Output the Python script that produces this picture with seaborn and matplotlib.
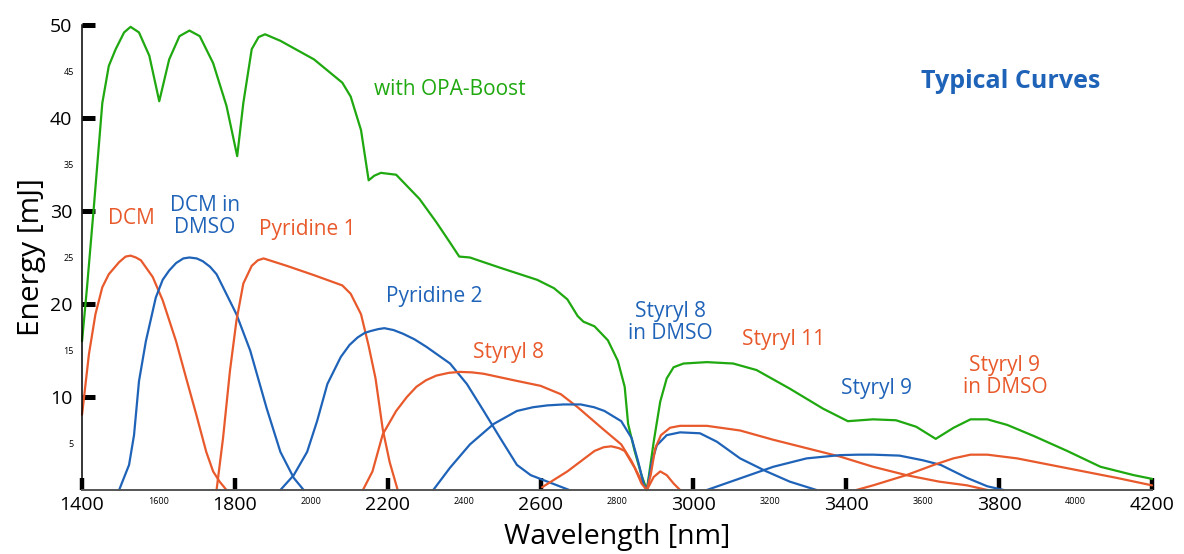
import matplotlib
matplotlib.use('Agg')
import matplotlib.pyplot as plt
import seaborn as sns
import pandas as pd

# Curve data (wavelength in nm, energy in mJ)
green_x = [1400, 1413, 1431, 1453, 1470, 1488, 1510, 1527, 1549, 1576, 1602, 1628, 1655, 1681, 1708, 1743, 1778,
           1806, 1822, 1844, 1862, 1879, 1919, 2007, 2081, 2103, 2130, 2150, 2165, 2182, 2222, 2283, 2327, 2363, 2387,
           2415, 2494, 2591, 2635, 2670, 2697, 2712, 2741, 2776, 2802, 2820, 2829, 2846, 2864, 2878, 2896,
           2913, 2930, 2948, 2974, 3035, 3104, 3165, 3252, 3339, 3404, 3470, 3530, 3583, 3634, 3681, 3725,
           3769, 3821, 3891, 3978, 4065, 4152, 4200]
green_y = [16.0, 21.8, 30.5, 41.6, 45.6, 47.4, 49.2, 49.8, 49.2, 46.7, 41.8, 46.3, 48.8, 49.4, 48.8, 45.9, 41.3,
           35.9, 41.6, 47.4, 48.7, 49.0, 48.3, 46.3, 43.8, 42.3, 38.7, 33.3, 33.8, 34.1, 33.9, 31.3, 28.8, 26.6, 25.1,
           25.0, 23.9, 22.6, 21.7, 20.5, 18.7, 18.1, 17.6, 16.1, 13.9, 11.1, 7.1, 4.2, 1.6, 0.0, 5.2,
           9.5, 12.0, 13.2, 13.6, 13.75, 13.6, 12.9, 10.9, 8.75, 7.4, 7.6, 7.5, 6.8, 5.5, 6.7, 7.6,
           7.6, 7.0, 5.8, 4.2, 2.5, 1.6, 1.2]

dcm_x = [1400, 1418, 1435, 1453, 1470, 1497, 1514, 1527, 1541, 1554, 1585, 1611, 1646, 1672, 1699, 1725, 1743,
         1760, 1778]
dcm_y = [8.1, 14.6, 18.9, 21.8, 23.2, 24.5, 25.1, 25.2, 25.0, 24.7, 22.9, 20.4, 16.0, 12.1, 8.1, 4.1, 2.0,
         0.9, 0.0]

dcm_dmso_x = [1497, 1523, 1536, 1549, 1567, 1593, 1611, 1628, 1646, 1665, 1681, 1700, 1716, 1735, 1752, 1769,
              1804, 1840, 1883, 1919, 1954, 1980]
dcm_dmso_y = [0.0, 2.7, 5.9, 11.7, 16.0, 20.7, 22.6, 23.6, 24.4, 24.9, 25.0, 24.9, 24.6, 24.0, 23.2, 21.8,
              18.9, 15.0, 8.8, 4.1, 1.3, 0.0]

pyr1_x = [1752, 1769, 1787, 1804, 1822, 1844, 1860, 1875, 1936, 2007, 2081, 2103, 2130, 2150, 2168, 2187, 2205,
          2226]
pyr1_y = [0.0, 5.6, 12.8, 18.2, 22.2, 24.1, 24.7, 24.9, 24.1, 23.1, 22.0, 21.1, 18.9, 15.5, 12.0, 6.5, 3.0,
          0.0]

pyr2_x = [1919, 1954, 1989, 2015, 2042, 2077, 2100, 2121, 2140, 2156, 2175, 2191, 2215, 2240, 2270, 2301, 2363,
          2407, 2451, 2494, 2538, 2574, 2618, 2675]
pyr2_y = [0.0, 1.6, 4.1, 7.4, 11.4, 14.3, 15.6, 16.4, 16.9, 17.1, 17.3, 17.4, 17.2, 16.8, 16.2, 15.4, 13.6,
          11.4, 8.5, 5.6, 2.7, 1.6, 0.9, 0.0]

styryl8_x = [2135, 2160, 2187, 2222, 2250, 2275, 2300, 2327, 2360, 2389, 2420, 2451, 2530, 2600, 2653, 2697,
             2759, 2811, 2838, 2860, 2878]
styryl8_y = [0.0, 2.0, 6.0, 8.5, 10.0, 11.1, 11.8, 12.3, 12.6, 12.7, 12.65, 12.5, 11.8, 11.2, 10.3, 8.9,
             6.7, 4.9, 3.1, 1.3, 0.0]

s8_dmso_x = [2319, 2363, 2415, 2477, 2538, 2580, 2618, 2660, 2705, 2740, 2767, 2811, 2838, 2855, 2870, 2878,
             2891, 2904, 2930, 2965, 3017, 3061, 3122, 3191, 3252, 3322]
s8_dmso_y = [0.0, 2.4, 4.9, 7.1, 8.5, 8.9, 9.1, 9.2, 9.2, 8.9, 8.5, 7.4, 5.6, 3.1, 0.6, 0.0,
             3.0, 4.8, 5.9, 6.2, 6.1, 5.2, 3.4, 2.0, 0.9, 0.0]

bump_x = [2604, 2670, 2741, 2765, 2785, 2805, 2820, 2846, 2864, 2878, 2896, 2913, 2930, 2948, 2965]
bump_y = [0.3, 2.0, 4.2, 4.6, 4.7, 4.5, 4.2, 2.4, 0.7, 0.0, 1.4, 2.0, 1.6, 0.7, 0.0]

styryl11_x = [2878, 2888, 2900, 2915, 2939, 2965, 3035, 3122, 3209, 3296, 3383, 3470, 3557, 3643, 3716, 3769]
styryl11_y = [0.0, 1.6, 4.5, 5.9, 6.7, 6.9, 6.9, 6.4, 5.4, 4.5, 3.6, 2.5, 1.6, 0.9, 0.5, 0.0]

styryl9_x = [3035, 3122, 3209, 3296, 3383, 3430, 3470, 3539, 3600, 3647, 3716, 3769, 3812]
styryl9_y = [0.0, 1.25, 2.5, 3.4, 3.75, 3.8, 3.8, 3.7, 3.2, 2.7, 1.3, 0.4, 0.0]

s9_dmso_x = [3426, 3470, 3557, 3629, 3680, 3725, 3769, 3847, 3934, 4021, 4108, 4200]
s9_dmso_y = [0.0, 0.5, 1.6, 2.7, 3.4, 3.8, 3.8, 3.4, 2.7, 2.0, 1.3, 0.5]

# Axis ticks
x_major = [1400, 1800, 2200, 2600, 3000, 3400, 3800, 4200]
x_minor = [1600, 2000, 2400, 2800, 3200, 3600, 4000]
y_major = [10, 20, 30, 40, 50]
y_minor = [5, 15, 25, 35, 45]

GREEN = '#1fa80f'
ORANGE = '#e8592b'
BLUE = '#1f63b8'

curves = [
    ('OPA-Boost', green_x, green_y, GREEN),
    ('DCM', dcm_x, dcm_y, ORANGE),
    ('DCM in DMSO', dcm_dmso_x, dcm_dmso_y, BLUE),
    ('Pyridine 1', pyr1_x, pyr1_y, ORANGE),
    ('Pyridine 2', pyr2_x, pyr2_y, BLUE),
    ('Styryl 8', styryl8_x, styryl8_y, ORANGE),
    ('Styryl 8 in DMSO', s8_dmso_x, s8_dmso_y, BLUE),
    ('Bump', bump_x, bump_y, ORANGE),
    ('Styryl 11', styryl11_x, styryl11_y, ORANGE),
    ('Styryl 9', styryl9_x, styryl9_y, BLUE),
    ('Styryl 9 in DMSO', s9_dmso_x, s9_dmso_y, ORANGE),
]

df = pd.concat([pd.DataFrame({'wavelength': x, 'energy': y, 'curve': name}) for name, x, y, _ in curves],
               ignore_index=True)
palette = {name: c for name, _, _, c in curves}

sns.set_style('white')
plt.rcParams['font.family'] = ['Open Sans', 'DejaVu Sans']
plt.rcParams['text.color'] = 'black'
plt.rcParams['axes.labelcolor'] = 'black'
plt.rcParams['xtick.labelcolor'] = 'black'
plt.rcParams['ytick.labelcolor'] = 'black'

fig = plt.figure(figsize=(11.84, 5.54), dpi=100)
ax = fig.add_axes([0.0693, 0.1155, 0.9037, 0.8394])

sns.lineplot(data=df, x='wavelength', y='energy', hue='curve', palette=palette, units='curve',
             estimator=None, sort=False, legend=False, linewidth=1.6, ax=ax)
for line in ax.lines:
    line.set_clip_on(False)
    line.set_solid_joinstyle('round')

ax.set_xlim(1400, 4200)
ax.set_ylim(0, 50)

# Spines
sns.despine(ax=ax)
ax.spines['left'].set_color('black')
ax.spines['left'].set_linewidth(1.1)
ax.spines['bottom'].set_color('#555555')
ax.spines['bottom'].set_linewidth(1.4)

# Ticks: thick bars for major, label-only for minor
ax.set_xticks(x_major, [str(v) for v in x_major])
ax.set_xticks(x_minor, [str(v) for v in x_minor], minor=True)
ax.set_yticks(y_major, [str(v) for v in y_major])
ax.set_yticks(y_minor, [str(v) for v in y_minor], minor=True)
ax.tick_params(axis='x', which='major', direction='in', length=9, width=3.2, color='black',
               labelsize=14, pad=4, bottom=True)
ax.tick_params(axis='y', which='major', direction='in', length=9, width=3.6, color='black',
               labelsize=14, pad=7, left=True)
ax.tick_params(axis='x', which='minor', length=0, labelsize=6.5, pad=5)
ax.tick_params(axis='y', which='minor', length=0, labelsize=6.5, pad=6)

ax.set_xlabel('Wavelength [nm]', fontsize=20.5, labelpad=7)
ax.set_ylabel('Energy [mJ]', fontsize=21.5, labelpad=3)

# Curve labels
ax.text(2363, 43.1, 'with OPA-Boost', color=GREEN, fontsize=15, ha='center', va='center')
ax.text(3829, 43.9, 'Typical Curves', color=BLUE, fontsize=18, fontweight='bold', ha='center', va='center')
ax.text(1528, 29.2, 'DCM', color=ORANGE, fontsize=15, ha='center', va='center')
ax.text(1722, 29.4, 'DCM in\nDMSO', color=BLUE, fontsize=15, ha='center', va='center', linespacing=1.05)
ax.text(1989, 28.0, 'Pyridine 1', color=ORANGE, fontsize=15, ha='center', va='center')
ax.text(2321, 20.8, 'Pyridine 2', color=BLUE, fontsize=15, ha='center', va='center')
ax.text(2515, 14.8, 'Styryl 8', color=ORANGE, fontsize=15, ha='center', va='center')
ax.text(2939, 18.0, 'Styryl 8\nin DMSO', color=BLUE, fontsize=15, ha='center', va='center', linespacing=1.05)
ax.text(3237, 16.2, 'Styryl 11', color=ORANGE, fontsize=15, ha='center', va='center')
ax.text(3480, 10.9, 'Styryl 9', color=BLUE, fontsize=15, ha='center', va='center')
ax.text(3815, 12.2, 'Styryl 9\nin DMSO', color=ORANGE, fontsize=15, ha='center', va='center', linespacing=1.05)

fig.savefig('out.png', dpi=100)
